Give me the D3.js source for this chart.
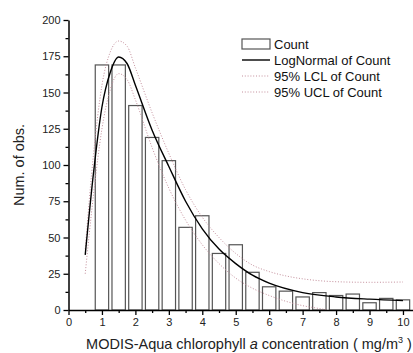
<!DOCTYPE html>
<html><head><meta charset="utf-8">
<script src="https://cdn.jsdelivr.net/npm/d3@7"></script>
<style>
body{margin:0;background:#fff;}
svg{display:block;font-family:"Liberation Sans",Arial,sans-serif;}
</style></head>
<body>
<svg id="chart" width="413" height="353"></svg>
<script>
// ---- data ----
const binCenters = [1,1.5,2,2.5,3,3.5,4,4.5,5,5.5,6,6.5,7,7.5,8,8.5,9,9.5,10];
const counts     = [169,169,141,119,103,57,65,39,45,26,16,13,9,12,10,11,5,8,7];
const binWidth = 0.4;

const fitX = [0.5,0.75,1.0,1.25,1.5,1.75,2.0,2.5,3.0,3.5,4.0,4.5,5.0,5.5,6.0,7.0,8.0,9.0,10.0];
const fitY = [38,95,140,164,174.5,170,155,124,99,75,56,42,32,24,18.5,12,9,7.5,6.5];

const lclX = [0.5,0.75,1.0,1.25,1.5,1.75,2.0,2.5,3.0,3.5,4.0,4.5,5.0,5.5,6.0,6.5,7.0,7.5,7.75];
const lclY = [25,80,125,152,163,159,145,112,84,62,45,32,22,15,10,6,3,1,0];

const uclX = [0.5,0.75,1.0,1.25,1.5,1.75,2.0,2.5,3.0,3.5,4.0,4.5,5.0,5.5,6.0,6.5,7.0,7.5,8.0,9.0,10.0];
const uclY = [42,108,155,178,185.5,182,167,136,108,83,64,50,39,31,26.5,23.5,21.5,20.2,19.5,19.1,19.3];

const xTicks = [0,1,2,3,4,5,6,7,8,9,10];
const xMinor = [0.5,1.5,2.5,3.5,4.5,5.5,6.5,7.5,8.5,9.5];
const yTicks = [0,25,50,75,100,125,150,175,200];
const yMinor = [12.5,37.5,62.5,87.5,112.5,137.5,162.5,187.5];

const legendItems = ["Count","LogNormal of Count","95% LCL of Count","95% UCL of Count"];

// ---- drawing ----
const svg = d3.select("#chart");
const x = d3.scaleLinear().domain([0,10.3]).range([68.5,413]);
const y = d3.scaleLinear().domain([0,200]).range([310,20]);

const dotColor = "#c48f9c";

// bars
svg.append("g").selectAll("rect").data(binCenters).join("rect")
  .attr("x", (d)=>x(d-binWidth/2))
  .attr("y", (d,i)=>y(counts[i]))
  .attr("width", (d)=>x(d+binWidth/2)-x(d-binWidth/2))
  .attr("height", (d,i)=>y(0)-y(counts[i]))
  .attr("fill","#fff").attr("stroke","#555").attr("stroke-width",1.2);

const line = d3.line().x(d=>x(d[0])).y(d=>y(d[1])).curve(d3.curveMonotoneX);

svg.append("path").datum(lclX.map((v,i)=>[v,lclY[i]]))
  .attr("d",line).attr("fill","none").attr("stroke",dotColor)
  .attr("stroke-width",1).attr("stroke-dasharray","1,1.8");
svg.append("path").datum(uclX.map((v,i)=>[v,uclY[i]]))
  .attr("d",line).attr("fill","none").attr("stroke",dotColor)
  .attr("stroke-width",1).attr("stroke-dasharray","1,1.8");
svg.append("path").datum(fitX.map((v,i)=>[v,fitY[i]]))
  .attr("d",line).attr("fill","none").attr("stroke","#000")
  .attr("stroke-width",1.4);

// axes
svg.append("g").attr("transform",`translate(${x(0)},0)`)
  .call(d3.axisLeft(y).tickValues(yTicks).tickSize(5).tickSizeOuter(0).tickPadding(3));
svg.append("g").attr("transform",`translate(${x(0)},0)`)
  .call(d3.axisLeft(y).tickValues(yMinor).tickSize(3).tickSizeOuter(0).tickFormat(""))
  .select(".domain").remove();
svg.append("g").attr("transform",`translate(0,${y(0)})`)
  .call(d3.axisBottom(x).tickValues(xTicks).tickSize(5).tickSizeOuter(0).tickPadding(3));
svg.append("g").attr("transform",`translate(0,${y(0)})`)
  .call(d3.axisBottom(x).tickValues(xMinor).tickSize(3).tickSizeOuter(0).tickFormat(""))
  .select(".domain").remove();

svg.selectAll(".domain").attr("stroke","#000").attr("stroke-width",1.5);
svg.selectAll(".tick line").attr("stroke","#000").attr("stroke-width",1.3);
svg.selectAll(".tick text").attr("font-size",11).attr("fill","#222")
  .attr("font-family","'Liberation Sans',Arial,sans-serif");

// axis titles
svg.append("text").attr("transform","translate(24,165) rotate(-90)")
  .attr("text-anchor","middle").attr("font-size",14.5).attr("fill","#222")
  .text("Num. of obs.");

const xt = svg.append("text").attr("x",249).attr("y",349)
  .attr("text-anchor","middle").attr("font-size",14.5).attr("fill","#222");
xt.append("tspan").text("MODIS-Aqua chlorophyll ");
xt.append("tspan").attr("font-style","italic").text("a");
xt.append("tspan").text(" concentration ( mg/m");
xt.append("tspan").attr("font-size",9).attr("dy",-6).text("3");
xt.append("tspan").attr("dy",6).text(" )");

// legend
const lg = svg.append("g");
const ly = [44,60,76,92];
lg.append("rect").attr("x",242).attr("y",ly[0]-5).attr("width",28).attr("height",10)
  .attr("fill","#fff").attr("stroke","#555").attr("stroke-width",1.2);
lg.append("line").attr("x1",242).attr("x2",270).attr("y1",ly[1]).attr("y2",ly[1])
  .attr("stroke","#000").attr("stroke-width",1.4);
[2,3].forEach(i=>{
  lg.append("line").attr("x1",242).attr("x2",270).attr("y1",ly[i]).attr("y2",ly[i])
    .attr("stroke",dotColor).attr("stroke-width",1).attr("stroke-dasharray","1,1.8");
});
lg.selectAll("text").data(legendItems).join("text")
  .attr("x",274).attr("y",(d,i)=>ly[i]+4.6)
  .attr("font-size",13).attr("fill","#111").text(d=>d);
</script>
</body></html>
